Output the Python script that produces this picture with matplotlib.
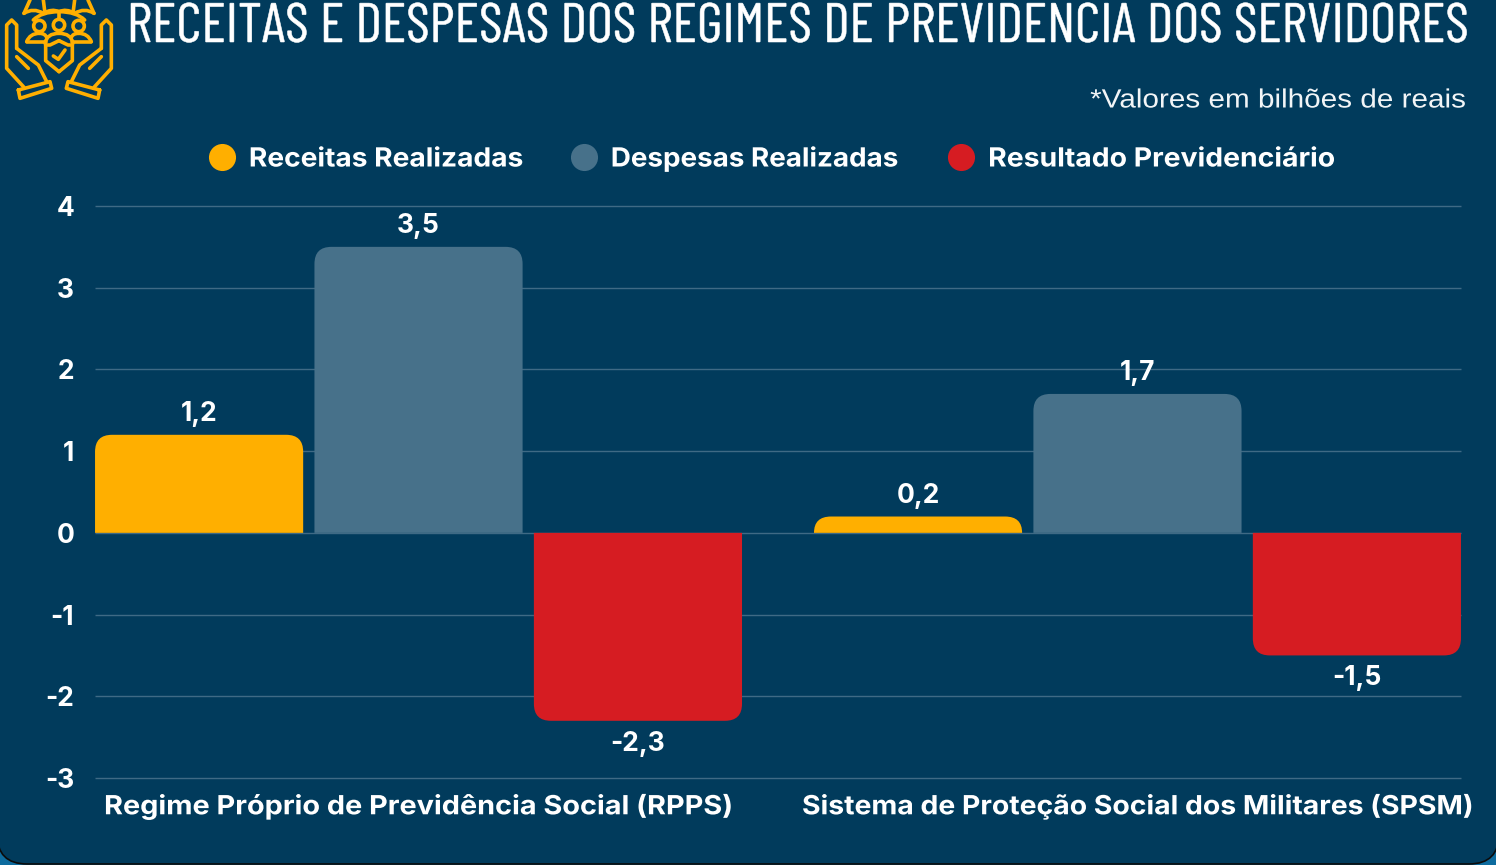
import matplotlib
matplotlib.use('Agg')
import matplotlib.pyplot as plt
import matplotlib.patheffects as pe
from matplotlib.lines import Line2D
from matplotlib.patches import PathPatch, FancyBboxPatch, Circle
from matplotlib.path import Path
from matplotlib.transforms import Affine2D

title = 'RECEITAS E DESPESAS DOS REGIMES DE PREVIDENCIA DOS SERVIDORES'
subtitle = '*Valores em bilhões de reais'
categories = ['Regime Próprio de Previdência Social (RPPS)', 'Sistema de Proteção Social dos Militares (SPSM)']
series_names = ['Receitas Realizadas', 'Despesas Realizadas', 'Resultado Previdenciário']
receitas = [1.2, 0.2]
despesas = [3.5, 1.7]
resultado = [-2.3, -1.5]
yticks = [-3, -2, -1, 0, 1, 2, 3, 4]

BG = '#013b5c'
GRID = '#3f6a85'
ORANGE = '#ffaf00'
colors = ['#ffaf00', '#47718a', '#d61c22']
BODY = 'Inter'
TITLE = ['Barlow Condensed', 'Roboto']


class Fit(pe.AbstractPathEffect):
    # scale the glyph outlines sideways and thicken them, the text stays a normal Text
    def __init__(self, sx=1.0, anchor='center', lw=0):
        super().__init__()
        self.sx = sx
        self.anchor = anchor
        self.lw = lw

    def draw_path(self, renderer, gc, tpath, affine, rgbFace=None):
        box = tpath.transformed(affine).get_extents()
        x0 = {'left': box.x0, 'right': box.x1, 'center': (box.x0 + box.x1) / 2}[self.anchor]
        t = affine + Affine2D().translate(-x0, 0).scale(self.sx, 1).translate(x0, 0)
        if self.lw:
            gc0 = renderer.new_gc()
            gc0.copy_properties(gc)
            gc0.set_linewidth(self.lw)
            gc0.set_foreground(rgbFace)
            gc0.set_joinstyle('round')
            renderer.draw_path(gc0, tpath, t, rgbFace)
            gc0.restore()
        else:
            renderer.draw_path(gc, tpath, t, rgbFace)


W, H = 1496, 865
fig = plt.figure(figsize=(W / 100, H / 100), dpi=100, facecolor='#0d6b9e')
rend = fig.canvas.get_renderer()


def fit(t, target, anchor='center', lw=0):
    t.set_path_effects([Fit(target / t.get_window_extent(rend).width, anchor, lw)])


# card behind everything, rounded at the bottom
bg = fig.add_axes([0, 0, 1, 1], zorder=0)
bg.set_xlim(0, W)
bg.set_ylim(H, 0)
bg.axis('off')
bg.add_patch(FancyBboxPatch((-3, -60), W + 6, H + 59, boxstyle='round,pad=0,rounding_size=30', fc=BG, ec='#0b0b0b', lw=1.2))

ax = fig.add_axes([95 / W, 1 - 778 / H, (1461 - 95) / W, (778 - 206) / H], zorder=1)
ax.patch.set_alpha(0)
ax.set_xlim(-0.45, 1.45)
ax.set_ylim(-3, 4)
for s in ax.spines.values():
    s.set_visible(False)
ax.set_axisbelow(True)
ax.grid(axis='y', color=GRID, linewidth=1)
ax.grid(axis='x', visible=False)
for l in ax.get_ygridlines():
    l.set_clip_on(False)
    l.set_solid_capstyle('butt')


def rounded_bar(x, w, h, color, radius=17):
    # only the far end of the bar is rounded
    sx = (1461 - 95) / 1.9
    sy = (778 - 206) / 7
    rx = radius / sx
    ry = min(radius / sy, abs(h))
    if h < 0:
        ry = -ry
    l, r = x - w / 2, x + w / 2
    verts = [(l, 0), (l, h - ry), (l, h), (l + rx, h), (r - rx, h), (r, h), (r, h - ry), (r, 0), (l, 0)]
    codes = [Path.MOVETO, Path.LINETO, Path.CURVE3, Path.CURVE3, Path.LINETO, Path.CURVE3, Path.CURVE3, Path.LINETO, Path.CLOSEPOLY]
    ax.add_patch(PathPatch(Path(verts, codes), fc=color, ec='none', zorder=2))


offset = 0.3052
width = 0.2895
for k, vals in enumerate([receitas, despesas, resultado]):
    for i, v in enumerate(vals):
        x = i + (k - 1) * offset
        rounded_bar(x, width, v, colors[k])
        txt = str(v).replace('.', ',')
        if v >= 0:
            ax.annotate(txt, (x, v), xytext=(0, 8), textcoords='offset pixels', ha='center', va='bottom',
                        color='white', fontsize=19, fontweight='bold', family=BODY)
        else:
            ax.annotate(txt, (x, v), xytext=(0, -10), textcoords='offset pixels', ha='center', va='top',
                        color='white', fontsize=19, fontweight='bold', family=BODY)

ax.set_yticks(yticks)
ax.set_yticklabels([str(t) for t in yticks], color='white', fontsize=19, fontweight='bold', family=BODY)
ax.set_xticks([0, 1])
ax.set_xticklabels(categories, color='white', fontsize=19, fontweight='bold', family=BODY)
ax.tick_params(axis='both', length=0)
ax.tick_params(axis='y', pad=15)
ax.tick_params(axis='x', pad=11)
fig.canvas.draw()
for t, tw in zip(ax.get_xticklabels(), [629, 671]):
    fit(t, tw, 'center')

handles = [Line2D([], [], linestyle='none', marker='o', markersize=19.5, markerfacecolor=c, markeredgecolor='none') for c in colors]
leg = ax.legend(handles, series_names, ncol=3, loc='center', bbox_to_anchor=(760 / W, 1 - 159 / H),
                bbox_transform=fig.transFigure, frameon=False, handlelength=1, handletextpad=0.52, columnspacing=2.46,
                prop={'family': BODY, 'weight': 'bold', 'size': 19})
for t, tw in zip(leg.get_texts(), [274, 287, 347]):
    t.set_color('white')
    fit(t, tw, 'left')

tt = fig.text(127 / W, 1 - 42 / H, title, color='white', fontsize=40, family=TITLE, ha='left', va='baseline')
fit(tt, 1343, 'left', 0.4)
st = fig.text(1466 / W, 1 - 100.5 / H, subtitle, color='#f2f5f7', fontsize=19, family='Liberation Sans', ha='right', va='center')
fit(st, 376, 'right')

# icon, drawn in zoom crop coordinates (3x)
ic = fig.add_axes([0, 0, 1, 1], zorder=2)
ic.set_xlim(0, W * 3)
ic.set_ylim(H * 3, 0)
ic.axis('off')


def stroke(pts, curved=False):
    if curved:
        codes = [Path.MOVETO] + [Path.CURVE3] * (len(pts) - 1)
    else:
        codes = [Path.MOVETO] + [Path.LINETO] * (len(pts) - 1)
    ic.add_patch(PathPatch(Path(pts, codes), fc='none', ec=ORANGE, lw=2.6, capstyle='round', joinstyle='round'))


for m in [0, 1]:
    fx = (lambda p: (354 - p[0], p[1])) if m else (lambda p: p)
    stroke([fx(p) for p in [(50, 145), (50, 75), (35, 60), (20, 75), (20, 205), (72, 262)]])
    stroke([fx(p) for p in [(50, 170), (85, 205)]])
    stroke([fx(p) for p in [(50, 145), (115, 195), (140, 245)]])
    stroke([fx(p) for p in [(55, 270), (150, 245), (155, 265), (60, 295), (55, 270)]])
    stroke([fx(p) for p in [(72, 40), (90, 0)]])
    stroke([fx(p) for p in [(72, 40), (100, 22), (130, 40)]], True)
    stroke([fx(p) for p in [(130, 40), (155, 25), (177, 35)]], True)
    stroke([fx(p) for p in [(130, 0), (135, 40)]])
    stroke([fx(p) for p in [(100, 60), (125, 35), (177, 35)]], True)
    stroke([fx(p) for p in [(80, 125), (90, 100), (118, 100)]], True)
    stroke([fx(p) for p in [(118, 100), (135, 100), (140, 112)]], True)
    stroke([fx(p) for p in [(80, 125), (137, 125)]])
    stroke([fx(p) for p in [(137, 135), (137, 182), (177, 215)]])
    stroke([fx(p) for p in [(137, 135), (150, 135), (177, 122)]])
    stroke([fx(p) for p in [(135, 130), (140, 100), (177, 100)]], True)
    ic.add_patch(Circle(fx((118, 78)), 17, fc='none', ec=ORANGE, lw=2.6))
ic.add_patch(Circle((177, 75), 17, fc='none', ec=ORANGE, lw=2.6))
stroke([(177, 35), (177, 57)])
stroke([(160, 168), (175, 178), (195, 150)])

fig.savefig('out.png', dpi=100, facecolor=fig.get_facecolor())
